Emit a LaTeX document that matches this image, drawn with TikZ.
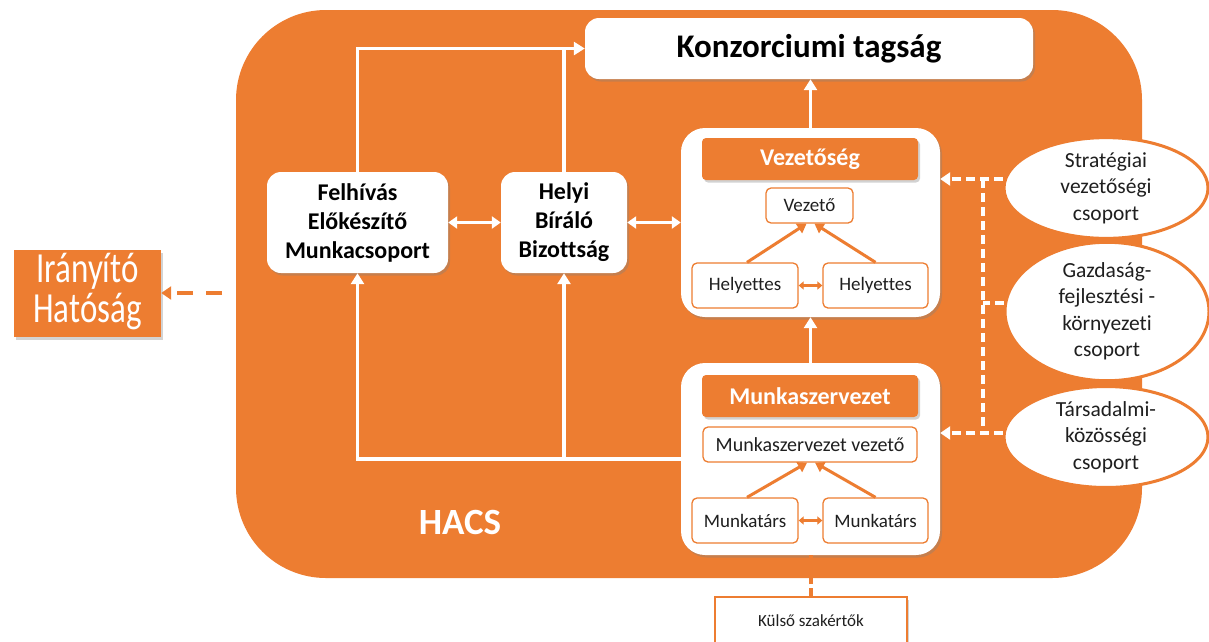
\documentclass[tikz,border=0pt]{standalone}
\usepackage{fontspec}
\setmainfont[Ligatures=NoCommon]{Carlito}
\usetikzlibrary{arrows.meta,shapes.geometric,shadows,calc}
\definecolor{org}{HTML}{ED7D31}
\definecolor{txt}{HTML}{1F1F1F}
\begin{document}
\begin{tikzpicture}[x=1pt,y=-1pt,
  shd/.style={drop shadow={shadow xshift=2pt,shadow yshift=-2.5pt,opacity=0.35}},
  wbox/.style={fill=white,rounded corners=14pt,shd,inner sep=0pt,align=center,text=black,
    font=\bfseries\fontsize{24}{29}\selectfont},
  outer/.style={fill=white,rounded corners=24pt,shd,inner sep=0pt},
  hdr/.style={fill=org,rounded corners=4pt,shd,inner sep=0pt,text=white,
    font=\bfseries\fontsize{24}{28}\selectfont},
  sbox/.style={draw=org,line width=1.3pt,fill=white,rounded corners=5pt,inner sep=0pt,
    text=txt,font=\fontsize{19}{23}\selectfont},
  ell/.style={ellipse,draw=org,line width=3pt,fill=white,inner sep=0pt,align=center,
    text=txt,font=\fontsize{21.5}{26.5}\selectfont},
  wline/.style={draw=white,line width=3.5pt},
  warr/.style={wline,-{Triangle[length=11pt,width=13pt]}},
  wdbl/.style={wline,{Triangle[length=9pt,width=12pt]}-{Triangle[length=9pt,width=12pt]}},
  wdash/.style={draw=white,line width=3.5pt,dash pattern=on 9pt off 5pt},
  oarr/.style={draw=org,line width=3pt,-{Triangle[length=9pt,width=11pt]}},
  odbl/.style={draw=org,line width=2.5pt,{Triangle[length=5pt,width=8pt]}-{Triangle[length=5pt,width=8pt]}},
  odash/.style={draw=org,line width=3.5pt,dash pattern=on 16pt off 13pt}
]
\useasboundingbox (0,0) rectangle (1209,641);

% background container
\node[fill=org,rounded corners=90pt,minimum width=906pt,minimum height=568pt,inner sep=0pt]
  (hacsbg) at (689,294) {};
\node[text=white,font=\bfseries\fontsize{37}{40}\selectfont] (hacs) at (460,522) {HACS};

% top box
\node[wbox,minimum width=448pt,minimum height=61pt,font=\bfseries\fontsize{33}{38}\selectfont]
  (konz) at (809,48.5) {Konzorciumi tagság};

% left boxes
\node[wbox,minimum width=181pt,minimum height=101pt] (felh) at (357.5,222.5)
  {Felhívás\\Előkészítő\\Munkacsoport};
\node[wbox,minimum width=126pt,minimum height=101pt] (helyi) at (564,222.5)
  {Helyi\\Bíráló\\Bizottság};

% Vezetőség block
\node[outer,minimum width=259pt,minimum height=189pt] (vez) at (810.5,222.5) {};
\node[hdr,minimum width=216pt,minimum height=42pt] (vezh) at (810,159) {Vezetőség};
\node[sbox,minimum width=87pt,minimum height=35pt] (vezeto) at (809.5,205.5) {Vezető};
\node[sbox,minimum width=106pt,minimum height=45pt] (hl) at (745,285.5) {Helyettes};
\node[sbox,minimum width=105pt,minimum height=45pt] (hr) at (875.5,285.5) {Helyettes};

% Munkaszervezet block
\node[outer,minimum width=259pt,minimum height=192pt] (munk) at (810.5,459) {};
\node[hdr,minimum width=216pt,minimum height=42pt] (munkh) at (810,396) {Munkaszervezet};
\node[sbox,minimum width=214pt,minimum height=35pt,font=\fontsize{20}{24}\selectfont] (mv) at (810,444.5) {Munkaszervezet vezető};
\node[sbox,minimum width=106pt,minimum height=45pt] (ml) at (745,520.5) {Munkatárs};
\node[sbox,minimum width=105pt,minimum height=45pt] (mr) at (875.5,520.5) {Munkatárs};

% ellipses
\node[ell,minimum width=204pt,minimum height=89pt] (strat) at (1106,188)
  {Stratégiai\\vezetőségi\\csoport};
\node[ell,minimum width=204pt,minimum height=127pt] (gazd) at (1107,311.5)
  {Gazdaság-\\fejlesztési -\\környezeti\\csoport};
\node[ell,minimum width=204pt,minimum height=90pt] (tars) at (1106,437)
  {Társadalmi-\\közösségi\\csoport};

% Irányító Hatóság
\node[fill=org,shd,minimum width=147pt,minimum height=87pt,inner sep=0pt,text=white]
  (ih) at (87.5,293.5)
  {\scalebox{1}[1.3]{\fontsize{33}{27}\selectfont\begin{tabular}{@{}c@{}}Irányító\\Hatóság\end{tabular}}};

% Külső szakértők
\node[draw=org,line width=1.5pt,fill=white,shd,minimum width=192pt,minimum height=50pt,
  inner sep=0pt] (kulso) at (811,622) {};
\node[text=txt,font=\fontsize{17}{20}\selectfont] (kulsot) at (811,621) {Külső szakértők};

% white connectors
\draw[warr] (felh.north) |- (konz.west);
\draw[wline] (helyi.north) -- (helyi.north |- konz.west);
\draw[wdbl] (felh.east) -- (helyi.west);
\draw[wdbl] (helyi.east) -- (vez.west);
\draw[warr] (vez.north) -- (vez.north |- konz.south);
\draw[warr] (munk.north) -- (munk.north |- vez.south);
\draw[warr] (munk.west) -| (felh.south);
\draw[warr] (helyi.south |- munk.west) -- (helyi.south);

% orange inner connectors
\draw[oarr] ($(hl.north)+(2,0)$) -- ($(vezeto.south)+(-3,0)$);
\draw[oarr] (hr.north) -- ($(vezeto.south)+(5,0)$);
\draw[odbl] (hl.east) -- (hr.west);
\draw[oarr] ($(ml.north)+(2,0)$) -- ($(mv.south)+(-3,0)$);
\draw[oarr] (mr.north) -- ($(mv.south)+(5,0)$);
\draw[odbl] (ml.east) -- (mr.west);

% dashed white connectors
\coordinate (dtop) at (983,179);
\coordinate (dmid) at (983,303);
\coordinate (dbot) at (983,433);
\draw[wdash,-{Triangle[length=10pt,width=13pt]}] (strat.west |- dtop) -- (vez.east |- dtop);
\draw[wdash] (dtop) -- (dbot);
\draw[wdash] (gazd.west |- dmid) -- (dmid);
\draw[wdash,-{Triangle[length=10pt,width=13pt]}] (tars.west |- dbot) -- (munk.east |- dbot);

% orange dashed connectors
\coordinate (ihs) at (222,293);
\draw[odash,-{Triangle[length=10pt,width=13pt]}] (ihs) -- (ih.east |- ihs);
\draw[draw=org,line width=3.5pt,dash pattern=on 8pt off 4pt] (kulso.north) -- (kulso.north |- munk.south);
\end{tikzpicture}
\end{document}
